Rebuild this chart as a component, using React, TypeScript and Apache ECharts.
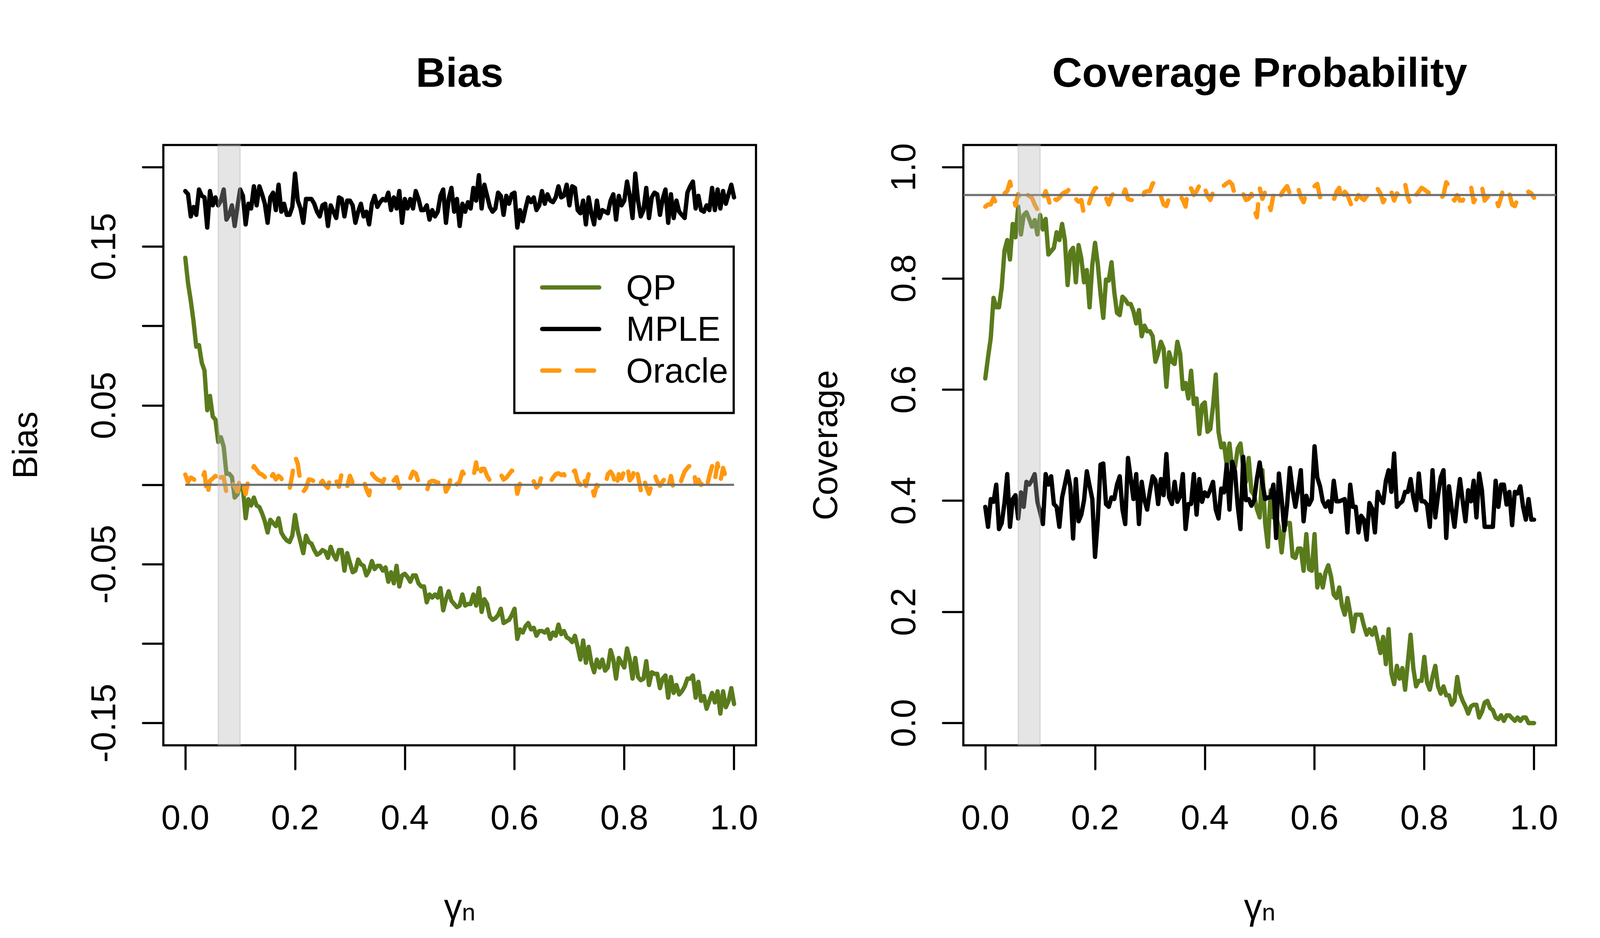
import React, { useEffect, useRef } from "react";
import * as echarts from "echarts";

// ---------- data ----------
const nPoints = 201;
const gammaStep = 0.005;
const gammaGrid: number[] = Array.from({ length: nPoints }, (_, i) => +(i * gammaStep).toFixed(3));

const xTicks = [0, 0.2, 0.4, 0.6, 0.8, 1.0];
const biasTicks = [-0.15, -0.1, -0.05, 0, 0.05, 0.1, 0.15, 0.2];
const biasLabels = [-0.15, -0.05, 0.05, 0.15];
const covTicks = [0, 0.2, 0.4, 0.6, 0.8, 1.0];
const xLimits = [0, 1];
const biasLimits = [-0.15, 0.2];
const covLimits = [0, 1];
const shadeBand = [0.06, 0.1];
const biasRef = 0;
const covRef = 0.95;
const seriesNames = ["QP", "MPLE", "Oracle"];
const panelTitles = ["Bias", "Coverage Probability"];
const yTitles = ["Bias", "Coverage"];

const biasQP = [
  0.143, 0.127, 0.116, 0.103, 0.087, 0.088, 0.077, 0.072, 0.047, 0.056,
  0.043, 0.041, 0.027, 0.030, 0.024, 0.007, 0.007, 0.005, -0.008, -0.006,
  -0.001, -0.002, -0.021, -0.009, -0.013, -0.008, -0.013, -0.014, -0.018, -0.023,
  -0.030, -0.022, -0.024, -0.026, -0.021, -0.030, -0.033, -0.035, -0.036, -0.032,
  -0.019, -0.029, -0.036, -0.043, -0.032, -0.036, -0.037, -0.041, -0.044, -0.043,
  -0.041, -0.042, -0.046, -0.039, -0.044, -0.047, -0.041, -0.041, -0.054, -0.043,
  -0.049, -0.055, -0.054, -0.047, -0.050, -0.051, -0.057, -0.054, -0.048, -0.053,
  -0.051, -0.051, -0.054, -0.052, -0.061, -0.055, -0.062, -0.051, -0.064, -0.057,
  -0.056, -0.058, -0.061, -0.057, -0.057, -0.062, -0.064, -0.064, -0.074, -0.069,
  -0.071, -0.069, -0.071, -0.065, -0.079, -0.072, -0.067, -0.073, -0.075, -0.077,
  -0.076,
  -0.069, -0.076, -0.075, -0.075, -0.069, -0.076, -0.065, -0.080, -0.072, -0.075,
  -0.083, -0.085, -0.084, -0.082, -0.078, -0.087, -0.086, -0.085, -0.082, -0.078,
  -0.097, -0.091, -0.093, -0.089, -0.087, -0.091, -0.090, -0.095, -0.092, -0.092,
  -0.093, -0.091, -0.097, -0.093, -0.095, -0.088, -0.094, -0.092, -0.096, -0.097,
  -0.099, -0.095, -0.102, -0.110, -0.098, -0.112, -0.102, -0.112, -0.118, -0.110,
  -0.115, -0.110, -0.117, -0.115, -0.104, -0.110, -0.122, -0.109, -0.112, -0.115,
  -0.103, -0.110, -0.122, -0.109, -0.121, -0.123, -0.122, -0.111, -0.126, -0.118,
  -0.119, -0.119, -0.128, -0.122, -0.120, -0.134, -0.121, -0.131, -0.126, -0.132,
  -0.130, -0.127, -0.122, -0.122, -0.120, -0.134, -0.124, -0.136, -0.133, -0.141,
  -0.136, -0.131, -0.137, -0.130, -0.144, -0.130, -0.140, -0.136, -0.128, -0.138,
];

const biasMPLE = [
  0.185, 0.183, 0.169, 0.175, 0.170, 0.186, 0.182, 0.181, 0.162, 0.185,
  0.176, 0.181, 0.176, 0.179, 0.186, 0.167, 0.170, 0.176, 0.163, 0.175,
  0.186, 0.182, 0.164, 0.177, 0.174, 0.188, 0.176, 0.188, 0.183, 0.177,
  0.165, 0.181, 0.184, 0.173, 0.189, 0.172, 0.177, 0.170, 0.170, 0.175,
  0.196, 0.179, 0.174, 0.165, 0.180, 0.180, 0.180, 0.177, 0.172, 0.169,
  0.176, 0.177, 0.163, 0.176, 0.172, 0.168, 0.181, 0.180, 0.169, 0.179,
  0.179, 0.176, 0.165, 0.172, 0.177, 0.169, 0.172, 0.164, 0.177, 0.182,
  0.175, 0.178, 0.180, 0.179, 0.184, 0.173, 0.181, 0.174, 0.185, 0.165,
  0.180, 0.174, 0.180, 0.174, 0.185, 0.180, 0.173, 0.173, 0.176, 0.167,
  0.173, 0.169, 0.172, 0.182, 0.186, 0.165, 0.180, 0.187, 0.172, 0.180,
  0.163,
  0.177, 0.172, 0.178, 0.174, 0.187, 0.179, 0.195, 0.174, 0.189, 0.182,
  0.175, 0.172, 0.174, 0.184, 0.182, 0.170, 0.182, 0.177, 0.183, 0.184,
  0.162, 0.173, 0.166, 0.174, 0.181, 0.178, 0.181, 0.173, 0.176, 0.185,
  0.177, 0.183, 0.179, 0.178, 0.181, 0.188, 0.181, 0.182, 0.189, 0.176,
  0.188, 0.187, 0.173, 0.171, 0.179, 0.164, 0.181, 0.171, 0.164, 0.179,
  0.168, 0.173, 0.172, 0.171, 0.179, 0.183, 0.167, 0.182, 0.176, 0.179,
  0.191, 0.182, 0.168, 0.196, 0.179, 0.169, 0.173, 0.187, 0.168, 0.181,
  0.184, 0.183, 0.170, 0.180, 0.186, 0.165, 0.183, 0.168, 0.179, 0.172,
  0.170, 0.168, 0.184, 0.188, 0.191, 0.174, 0.182, 0.173, 0.172, 0.176,
  0.173, 0.187, 0.173, 0.186, 0.174, 0.185, 0.177, 0.183, 0.189, 0.181,
];

const biasOracle = [
  0.0065, 0.0018, 0.0046, 0.0037, 0.0018, 0.0042, 0.0026, 0.008, -0.0074, 0.0026,
  0.004, 0.0057, -0.0003, 0.0049, 0.0049, -0.0051, -0.0036, 0.0018, -0.0012, -0.0043,
  0.0049, 0.001, -0.0058, 0.0034, 0.0065, 0.0118, 0.0095, 0.0072, 0.0065, 0.0049,
  0.0003, 0.0042, 0.0068, 0.0034, 0.0057, 0.0042, -0.0012, -0.0036, -0.0028, 0.0065,
  0.018, 0.0134, 0.0011, -0.0043, -0.002, 0.0034, 0.0031, 0.0022, -0.0028, 0.0003,
  0.0026, -0.0003, -0.002, 0.0065, 0.0049, 0.0026, -0.0012, 0.0072, 0.0026, -0.0012,
  0.0057, 0.0014, 0.0003, 0.0018, 0.0026, 0.0031, -0.0028, -0.0066, 0.0072, 0.0049,
  0.0034, 0.0026, 0.0018, 0.0057, 0.0022, 0.0042, 0.0026, 0.0049, -0.002, 0.0003,
  0.0026, 0.0011, 0.0042, 0.0083, 0.0072, 0.0018, -0.0003, -0.002, -0.0043, 0.0018,
  0.0026, 0.0023, 0.0011, 0.0026, 0.0049, -0.0043, -0.0012, 0.0065, 0.0011, 0.0003,
  0.002,
  0.0084, 0.0056, 0.0045, 0.0062, 0.005, 0.0141, 0.0039, 0.0101, 0.0101, 0.0056,
  0.0028, 0.0045, 0.0062, 0.0079, 0.0067, 0.0033, 0.0045, 0.0067, 0.009, 0.0079,
  -0.0056, 0.0011, 0.0011, 0.0011, 0.0016, 0.0039, 0.0022, -0.0017, 0.0005, 0.0062,
  0.0045, 0.0033, 0.0016, 0.0045, 0.0067, 0.0073, 0.0062, 0.0067, 0.0028, 0.0056,
  0.0079, 0.009, 0.0022, 0.0, 0.0067, -0.0006, 0.0067, 0.0005, -0.0068, 0.0,
  -0.0028, -0.0011, -0.0006, 0.0067, 0.0084, 0.0056, -0.0023, 0.0067, 0.0039, 0.009,
  0.013, 0.0028, 0.005, 0.0124, 0.0056, -0.0034, 0.0045, -0.0011, -0.0056, 0.0,
  0.0067, 0.0022, -0.0006, 0.0022, 0.0045, -0.0017, 0.0056, -0.0028, -0.0011, -0.0017,
  0.0039, 0.0084, 0.0107, 0.0124, 0.013, 0.0011, 0.0033, 0.0, 0.0028, -0.0017,
  0.0056, 0.0118, 0.0028, 0.0135, 0.0022, 0.0107, 0.0045, 0.0073, 0.0056, 0.0045,
];

const covQP = [
  0.620, 0.658, 0.693, 0.765, 0.748, 0.748, 0.784, 0.850, 0.869, 0.834,
  0.898, 0.874, 0.929, 0.879, 0.914, 0.919, 0.907, 0.893, 0.905, 0.879,
  0.914, 0.888, 0.907, 0.843, 0.849, 0.855, 0.883, 0.869, 0.898, 0.869,
  0.788, 0.848, 0.855, 0.793, 0.860, 0.836, 0.793, 0.815, 0.748, 0.824,
  0.864, 0.826, 0.772, 0.729, 0.798, 0.796, 0.829, 0.776, 0.738, 0.734,
  0.767, 0.762, 0.754, 0.754, 0.741, 0.719, 0.743, 0.696, 0.715, 0.705,
  0.705, 0.696, 0.650, 0.665, 0.686, 0.674, 0.605, 0.667, 0.650, 0.646,
  0.686, 0.665, 0.601, 0.612, 0.584, 0.634, 0.574, 0.584, 0.520, 0.572,
  0.577, 0.524, 0.529, 0.570, 0.627, 0.524, 0.496, 0.503, 0.463, 0.503,
  0.456, 0.460, 0.494, 0.503, 0.460, 0.434, 0.477, 0.417, 0.410, 0.385,
  0.370,
  0.455, 0.360, 0.317, 0.419, 0.370, 0.370, 0.353, 0.307, 0.353, 0.360,
  0.360, 0.300, 0.297, 0.314, 0.314, 0.274, 0.340, 0.277, 0.274, 0.340,
  0.244, 0.267, 0.244, 0.271, 0.284, 0.264, 0.231, 0.225, 0.244, 0.211,
  0.195, 0.225, 0.198, 0.165, 0.195, 0.195, 0.195, 0.175, 0.159, 0.169,
  0.159, 0.172, 0.149, 0.126, 0.155, 0.106, 0.169, 0.090, 0.070, 0.103,
  0.080, 0.099, 0.060, 0.109, 0.159, 0.099, 0.066, 0.076, 0.076, 0.119,
  0.073, 0.060, 0.083, 0.103, 0.066, 0.053, 0.066, 0.050, 0.050, 0.033,
  0.040, 0.083, 0.053, 0.040, 0.030, 0.017, 0.030, 0.033, 0.033, 0.010,
  0.020, 0.037, 0.040, 0.027, 0.023, 0.010, 0.007, 0.014, 0.004, 0.014,
  0.014, 0.009, 0.004, 0.010, 0.004, 0.010, 0.010, 0.000, 0.000, 0.000,
];

const covMPLE = [
  0.389, 0.353, 0.403, 0.398, 0.429, 0.349, 0.360, 0.396, 0.448, 0.353,
  0.403, 0.410, 0.368, 0.415, 0.389, 0.434, 0.429, 0.437, 0.448, 0.398,
  0.379, 0.358, 0.448, 0.429, 0.444, 0.394, 0.389, 0.353, 0.406, 0.429,
  0.453, 0.425, 0.332, 0.439, 0.363, 0.375, 0.401, 0.453, 0.427, 0.403,
  0.299, 0.365, 0.465, 0.467, 0.394, 0.389, 0.406, 0.403, 0.429, 0.444,
  0.384, 0.358, 0.477, 0.441, 0.403, 0.448, 0.358, 0.434, 0.401, 0.384,
  0.417, 0.444, 0.437, 0.394, 0.439, 0.410, 0.484, 0.406, 0.394, 0.434,
  0.398, 0.408, 0.448, 0.349, 0.394, 0.394, 0.448, 0.375, 0.439, 0.398,
  0.415, 0.408, 0.420, 0.434, 0.384, 0.368, 0.422, 0.415, 0.465, 0.384,
  0.470, 0.453, 0.391, 0.349, 0.479, 0.401, 0.403, 0.391, 0.401, 0.440,
  0.469,
  0.432, 0.403, 0.406, 0.406, 0.429, 0.333, 0.449, 0.403, 0.347, 0.393,
  0.459, 0.419, 0.389, 0.419, 0.455, 0.363, 0.409, 0.393, 0.403, 0.498,
  0.442, 0.426, 0.399, 0.389, 0.399, 0.380, 0.436, 0.399, 0.399, 0.401,
  0.403, 0.343, 0.429, 0.389, 0.389, 0.343, 0.373, 0.366, 0.330, 0.396,
  0.386, 0.343, 0.416, 0.403, 0.396, 0.436, 0.455, 0.416, 0.485, 0.389,
  0.395, 0.399, 0.416, 0.416, 0.439, 0.406, 0.383, 0.449, 0.399, 0.399,
  0.393, 0.353, 0.455, 0.370, 0.410, 0.442, 0.455, 0.333, 0.426, 0.386,
  0.353, 0.399, 0.439, 0.399, 0.363, 0.419, 0.399, 0.436, 0.370, 0.449,
  0.419, 0.353, 0.353, 0.353, 0.353, 0.436, 0.389, 0.429, 0.429, 0.393,
  0.416, 0.356, 0.416, 0.413, 0.426, 0.389, 0.366, 0.403, 0.366, 0.366,
];

const covOracle = [
  0.929, 0.933, 0.933, 0.945, 0.934, 0.943, 0.952, 0.953, 0.957, 0.974,
  0.952, 0.931, 0.952, 0.938, 0.948, 0.952, 0.948, 0.945, 0.933, 0.924,
  0.943, 0.943, 0.957, 0.943, 0.926, 0.943, 0.941, 0.945, 0.952, 0.955,
  0.957, 0.964, 0.960, 0.943, 0.938, 0.941, 0.914, 0.922, 0.938, 0.952,
  0.962, 0.964, 0.949, 0.948, 0.945, 0.933, 0.948, 0.955, 0.948, 0.945,
  0.949, 0.960, 0.943, 0.941, 0.941, 0.938, 0.943, 0.941, 0.955, 0.957,
  0.957, 0.971, 0.972, 0.964, 0.948, 0.933, 0.930, 0.945, 0.948, 0.948,
  0.950, 0.949, 0.941, 0.929, 0.967, 0.962, 0.950, 0.957, 0.967, 0.976,
  0.962, 0.948, 0.941, 0.955, 0.952, 0.960, 0.967, 0.967, 0.971, 0.974,
  0.969, 0.948, 0.952, 0.957, 0.952, 0.941, 0.943, 0.952, 0.924, 0.910,
  0.963,
  0.943, 0.956, 0.943, 0.923, 0.950, 0.943, 0.937, 0.953, 0.960, 0.966,
  0.953, 0.966, 0.966, 0.963, 0.946, 0.937, 0.953, 0.956, 0.956, 0.966,
  0.970, 0.946, 0.946, 0.941, 0.943, 0.945, 0.941, 0.956, 0.963, 0.937,
  0.956, 0.950, 0.937, 0.923, 0.940, 0.950, 0.945, 0.941, 0.948, 0.950,
  0.960, 0.966, 0.961, 0.953, 0.937, 0.946, 0.940, 0.956, 0.940, 0.953,
  0.948, 0.963, 0.970, 0.946, 0.933, 0.952, 0.950, 0.956, 0.963, 0.960,
  0.956, 0.953, 0.952, 0.953, 0.950, 0.943, 0.950, 0.973, 0.966, 0.946,
  0.940, 0.950, 0.940, 0.940, 0.950, 0.960, 0.966, 0.937, 0.946, 0.960,
  0.965, 0.940, 0.946, 0.953, 0.953, 0.946, 0.930, 0.946, 0.966, 0.963,
  0.953, 0.933, 0.930, 0.943, 0.943, 0.950, 0.953, 0.956, 0.953, 0.945,
];

// ---------- styling ----------
const FONT = '"Liberation Sans", Arial, Helvetica, sans-serif';
const GREEN = "#5A7B1C";
const ORANGE = "#FF9810";
const BLACK = "#000000";
const GRAY = "#707070";
const SHADE = "rgba(180,180,180,0.35)";
const BASE_W = 4800;
const BASE_H = 2400;

const rExtend = (lim: number[]) => {
  const d = (lim[1] - lim[0]) * 0.04;
  return [lim[0] - d, lim[1] + d];
};

const pairs = (ys: number[]) => gammaGrid.map((x, i) => [x, ys[i]]);

function buildOption(kx: number, ky: number) {
  const kf = Math.sqrt(kx * ky);
  const X = (v: number) => v * kx;
  const Y = (v: number) => v * ky;
  const F = (v: number) => v * kf;
  const LW = F(12);
  const xExt = rExtend(xLimits);
  const yExts = [rExtend(biasLimits), rExtend(covLimits)];
  const gridLefts = [490, 2890];
  const panels = [
    { qp: biasQP, mple: biasMPLE, oracle: biasOracle, ticks: biasTicks, labels: biasLabels, digits: 2 },
    { qp: covQP, mple: covMPLE, oracle: covOracle, ticks: covTicks, labels: covTicks, digits: 1 },
  ];

  const grid = gridLefts.map((left) => ({
    left: X(left),
    top: Y(371),
    width: X(1778),
    height: Y(1536),
    show: true,
    borderColor: "#000",
    borderWidth: F(6),
    backgroundColor: "transparent",
    containLabel: false,
    outerBoundsMode: "none",
  }));

  const tickStyle = { color: "#000", width: F(6), cap: "round" };
  const labelBase = { fontSize: F(96), color: "#000", fontFamily: FONT };

  const xAxis = panels.map((_, g) => ({
    type: "value",
    gridIndex: g,
    min: xExt[0],
    max: xExt[1],
    axisLine: { show: false, onZero: false },
    axisTick: { show: true, inside: false, length: Y(61), lineStyle: tickStyle, customValues: xTicks },
    axisLabel: { ...labelBase, show: true, margin: Y(140), customValues: xTicks, formatter: (v: number) => v.toFixed(1) },
    splitLine: { show: false },
    name: "{g|γ}{s|n}",
    nameLocation: "middle",
    nameGap: Y(369),
    nameMoveOverlap: false,
    nameTextStyle: {
      ...labelBase,
      rich: {
        g: { fontSize: F(100), lineHeight: F(96), fontFamily: FONT, color: "#000" },
        s: { fontSize: F(67), lineHeight: F(46), verticalAlign: "bottom", fontFamily: FONT, color: "#000" },
      },
    },
  }));

  const yAxis = panels.map((p, g) => ({
    type: "value",
    gridIndex: g,
    min: yExts[g][0],
    max: yExts[g][1],
    axisLine: { show: false, onZero: false },
    axisTick: { show: true, inside: false, length: X(61), lineStyle: tickStyle, customValues: p.ticks },
    axisLabel: {
      ...labelBase,
      show: true,
      rotate: 90,
      margin: X(128),
      customValues: p.labels,
      formatter: (v: number) => v.toFixed(p.digits),
    },
    splitLine: { show: false },
    name: yTitles[g],
    nameLocation: "middle",
    nameRotate: 90,
    nameGap: X(362),
    nameMoveOverlap: false,
    nameTextStyle: { ...labelBase },
  }));

  const series: any[] = [];
  panels.forEach((p, g) => {
    const common = {
      type: "line",
      xAxisIndex: g,
      yAxisIndex: g,
      showSymbol: false,
      symbol: "none",
      silent: true,
      z: 2,
    };
    series.push({
      ...common,
      name: seriesNames[0],
      data: pairs(p.qp),
      itemStyle: { color: GREEN },
      lineStyle: { color: GREEN, width: LW, cap: "round", join: "round" },
    });
    series.push({
      ...common,
      name: seriesNames[1],
      data: pairs(p.mple),
      itemStyle: { color: BLACK },
      lineStyle: { color: BLACK, width: LW, cap: "round", join: "round" },
    });
    series.push({
      ...common,
      name: seriesNames[2],
      data: pairs(p.oracle),
      itemStyle: { color: ORANGE },
      lineStyle: { color: ORANGE, width: LW, type: [F(48), F(48)], cap: "round", join: "round" },
    });
    if (g === 0) {
      series.push({
        ...common,
        name: "ref0",
        z: 3,
        data: [
          [gammaGrid[0], biasRef],
          [gammaGrid[gammaGrid.length - 1], biasRef],
        ],
        lineStyle: { color: GRAY, width: F(6), cap: "butt" },
      });
    } else {
      series.push({
        ...common,
        name: "ref1",
        z: 3,
        data: [],
        markLine: {
          silent: true,
          symbol: ["none", "none"],
          label: { show: false },
          lineStyle: { color: GRAY, width: F(6), type: "solid" },
          data: [{ yAxis: covRef }],
        },
      });
    }
    series.push({
      type: "custom",
      name: "band" + g,
      xAxisIndex: g,
      yAxisIndex: g,
      silent: true,
      z: 10,
      data: [shadeBand],
      renderItem: (params: any, api: any) => {
        const a = api.coord([api.value(0), yExts[g][0]]);
        const b = api.coord([api.value(1), yExts[g][0]]);
        const cs = params.coordSys;
        return {
          type: "rect",
          shape: { x: a[0], y: cs.y, width: b[0] - a[0], height: cs.height },
          style: { fill: SHADE, stroke: SHADE, lineWidth: F(4) },
        };
      },
    });
  });

  // keep the legend box's right edge where it is in the reference even when text scales differently
  const legendRightPad = Math.max(X(8), X(40) - 283 * (kf - kx));

  return {
    animation: false,
    backgroundColor: "#ffffff",
    title: panelTitles.map((t, g) => ({
      text: t,
      left: X(gridLefts[g] + 889),
      top: Y(132),
      padding: 0,
      textAlign: "center",
      textStyle: { fontSize: F(115), fontWeight: "bold", fontFamily: FONT, color: "#000" },
    })),
    legend: {
      data: seriesNames,
      orient: "vertical",
      left: X(1543),
      top: Y(631),
      padding: [Y(60), legendRightPad, Y(64), X(77)],
      itemGap: Y(106) - F(96),
      itemWidth: X(171),
      itemHeight: F(12),
      borderColor: "#000",
      borderWidth: F(6),
      borderRadius: 0,
      backgroundColor: "#ffffff",
      selectedMode: false,
      itemStyle: { opacity: 0 },
      lineStyle: { width: LW },
      textStyle: { fontSize: F(96), lineHeight: F(96), fontFamily: FONT, color: "#000", padding: [0, 0, 0, X(75)] },
    },
    grid,
    xAxis,
    yAxis,
    series,
  };
}

export default function App() {
  const ref = useRef<HTMLDivElement>(null);
  useEffect(() => {
    document.body.style.margin = "0";
    document.body.style.overflow = "hidden";
    const el = ref.current;
    if (!el) return;
    const vw = document.documentElement.clientWidth || window.innerWidth || BASE_W;
    const vh = window.innerHeight || document.documentElement.clientHeight || BASE_H;
    const kx = Math.min(vw / BASE_W, 1);
    const ky = Math.min(vh / BASE_H, 1);
    el.style.width = `${BASE_W * kx}px`;
    el.style.height = `${BASE_H * ky}px`;
    const chart = echarts.init(el, null, { renderer: "svg" });
    chart.setOption(buildOption(kx, ky) as any);
    return () => chart.dispose();
  }, []);
  return <div ref={ref} style={{ width: "4800px", height: "2400px", background: "#fff" }} />;
}
